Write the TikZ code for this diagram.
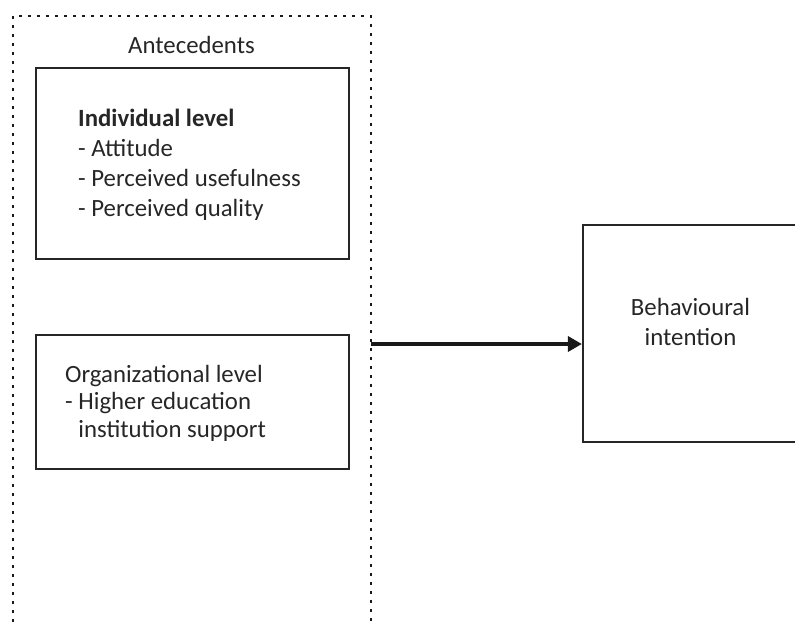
\documentclass[tikz,border=0pt]{standalone}
\usepackage{fontspec}
\setmainfont{Carlito}
\usetikzlibrary{arrows.meta}
\begin{document}
\begin{tikzpicture}[x=1pt,y=-1pt,
  box/.style={draw=black!85, line width=2.2pt, rectangle, inner sep=0pt},
  txt/.style={inner sep=0pt, font=\fontsize{24.8}{30}\selectfont, align=left, text=black!85},
  dotline/.style={line width=2.9pt, dash pattern=on 2.9pt off 6.1pt, black!90},
  arr/.style={line width=3.4pt, -{Triangle[length=14pt,width=15pt]}, black!90}]
\useasboundingbox (0,0) rectangle (795,625);
\clip (0,0) rectangle (795,625);
% dotted container
\draw[dotline] (13,640) -- (13,16) -- (371,16) -- (371,640);
\node[txt, anchor=base] (ante) at (191.5,53) {Antecedents};
% individual level
\node[box, minimum width=313pt, minimum height=191pt] (ind) at (192.5,163.5) {};
\node[txt, anchor=base west] (indt) at (78,216) {\textbf{Individual level}\\- Attitude\\- Perceived usefulness\\- Perceived quality};
% organizational level
\node[box, minimum width=313pt, minimum height=134pt] (org) at (192.5,402) {};
\node[txt, anchor=base west, font=\fontsize{24.8}{27.5}\selectfont] (orgt) at (65,437) {Organizational level\\- Higher education\\\phantom{- }institution support};
% behavioural intention
\node[box, minimum width=240pt, minimum height=217pt] (bi) at (703,333.5) {};
\node[txt, align=center, anchor=base] (bit) at (690.5,345) {Behavioural\\intention};
% arrow
\coordinate (a1) at (371,344);
\draw[arr] (a1) -- (a1 -| bi.west);
\end{tikzpicture}
\end{document}
